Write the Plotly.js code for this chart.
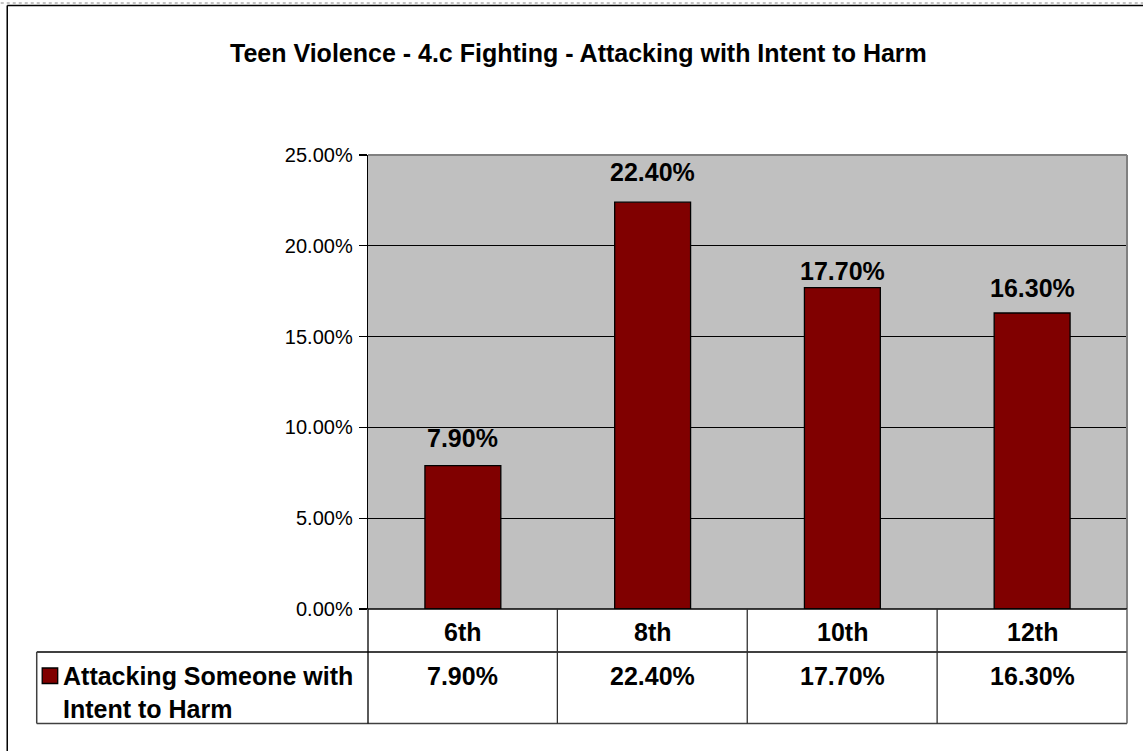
<!DOCTYPE html>
<html>
<head>
<meta charset="utf-8">
<script src="https://cdn.plot.ly/plotly-3.0.1.min.js"></script>
<style>
html, body { margin: 0; padding: 0; background: #fff; }
#chart { width: 1143px; height: 751px; }
</style>
</head>
<body>
<div id="chart"></div>
<script>
// ---- data ----
var categories = ['6th', '8th', '10th', '12th'];
var values = [0.079, 0.224, 0.177, 0.163];
var seriesName = 'Attacking Someone with Intent to Harm';
var tickValues = [0, 0.05, 0.10, 0.15, 0.20, 0.25];
var chartTitle = 'Teen Violence - 4.c Fighting - Attacking with Intent to Harm';

// ---- styling ----
var FONT = 'Liberation Sans, Arial, sans-serif';
var labelShift = [28, 30, 17, 25]; // px above bar top for data labels
var W = 1143, H = 751;
var L = 367.5, R = 1127, T = 155, B = 609;
function px(x) { return (x - L) / (R - L); }
function py(y) { return (B - y) / (B - T); }

var xs = categories.map(function (c, i) { return i; });
function pct(v) { return (v * 100).toFixed(2) + '%'; }

var trace = {
  type: 'bar',
  x: xs,
  y: values,
  name: seriesName,
  marker: { color: '#800000', line: { color: '#000000', width: 1.3 } },
  hoverinfo: 'skip'
};

var annotations = [];
// title
annotations.push({
  xref: 'paper', yref: 'paper', x: px(578), y: py(53),
  text: '<b>' + chartTitle + '</b>', showarrow: false,
  xanchor: 'center', yanchor: 'middle',
  font: { family: FONT, size: 25, color: '#000' }
});
// data labels
values.forEach(function (v, i) {
  annotations.push({
    xref: 'x', yref: 'y', x: xs[i], y: v, yshift: labelShift[i],
    text: '<b>' + pct(v) + '</b>', showarrow: false,
    xanchor: 'center', yanchor: 'middle',
    font: { family: FONT, size: 25, color: '#000' }
  });
});
// table: category header row and value row
categories.forEach(function (c, i) {
  annotations.push({
    xref: 'x', yref: 'paper', x: xs[i], y: py(632),
    text: '<b>' + c + '</b>', showarrow: false,
    xanchor: 'center', yanchor: 'middle',
    font: { family: FONT, size: 25, color: '#000' }
  });
  annotations.push({
    xref: 'x', yref: 'paper', x: xs[i], y: py(676),
    text: '<b>' + pct(values[i]) + '</b>', showarrow: false,
    xanchor: 'center', yanchor: 'middle',
    font: { family: FONT, size: 25, color: '#000' }
  });
});
// legend text in table
annotations.push({
  xref: 'paper', yref: 'paper', x: px(60), y: py(692),
  text: '<b>Attacking Someone with<br>Intent to Harm</b>', showarrow: false,
  xanchor: 'left', yanchor: 'middle', align: 'left',
  font: { family: FONT, size: 25, color: '#000' }
});

var lineBlack = { color: '#000000', width: 1.3 };
var lineGray = { color: '#808080', width: 2 };
function seg(x0, y0, x1, y1, line) {
  return { type: 'line', xref: 'paper', yref: 'paper',
    x0: px(x0), y0: py(y0), x1: px(x1), y1: py(y1), line: line, layer: 'above' };
}
var shapes = [];
// plot area border (top, right) gray
shapes.push(seg(L, T, R, T, lineGray));
shapes.push(seg(R, T, R, B, lineGray));
// table lines
shapes.push(seg(L, B, R, B, lineBlack));
shapes.push(seg(36, 652, R, 652, lineBlack));
shapes.push(seg(36, 723.5, R, 723.5, { color: '#404040', width: 1.5 }));
shapes.push(seg(36, 652, 36, 723.5, { color: '#404040', width: 1.5 }));
shapes.push(seg(L, B, L, 723.5, lineBlack));
[557, 747, 937].forEach(function (x) {
  shapes.push(seg(x, B, x, 723.5, { color: '#303030', width: 1.3 }));
});
shapes.push(seg(R, B, R, 723.5, { color: '#606060', width: 1.5 }));
// legend key square
shapes.push({ type: 'rect', xref: 'paper', yref: 'paper',
  x0: px(41.5), x1: px(57), y0: py(668), y1: py(683.5),
  fillcolor: '#800000', line: { color: '#000', width: 1.3 }, layer: 'above' });
// outer chart border (top & left)
shapes.push(seg(6.5, 5.5, 1143, 5.5, { color: '#000', width: 1.5 }));
shapes.push(seg(6.5, 5.5, 6.5, 751, { color: '#000', width: 1.5 }));
shapes.push(seg(0, 3, 1143, 3, { color: '#888', width: 1, dash: 'dot' }));

var layout = {
  width: W, height: H,
  margin: { l: L, r: W - R, t: T, b: H - B, pad: 0 },
  paper_bgcolor: '#ffffff',
  plot_bgcolor: '#c0c0c0',
  showlegend: false,
  bargap: 0.6,
  xaxis: {
    range: [-0.5, 3.5], showgrid: false, zeroline: false,
    showticklabels: false, ticks: '', showline: false, fixedrange: true
  },
  yaxis: {
    range: [0, 0.25], tickvals: tickValues, tickformat: '.2%',
    showgrid: true, gridcolor: '#000000', gridwidth: 1,
    zeroline: false, showline: true, linecolor: '#000000', linewidth: 1.3,
    ticks: 'outside', ticklen: 8, tickcolor: '#000000', tickwidth: 1.3,
    ticklabelstandoff: 2,
    tickfont: { family: FONT, size: 20, color: '#000' },
    fixedrange: true
  },
  annotations: annotations,
  shapes: shapes
};

Plotly.newPlot('chart', [trace], layout, { displayModeBar: false, staticPlot: true });
</script>
</body>
</html>
